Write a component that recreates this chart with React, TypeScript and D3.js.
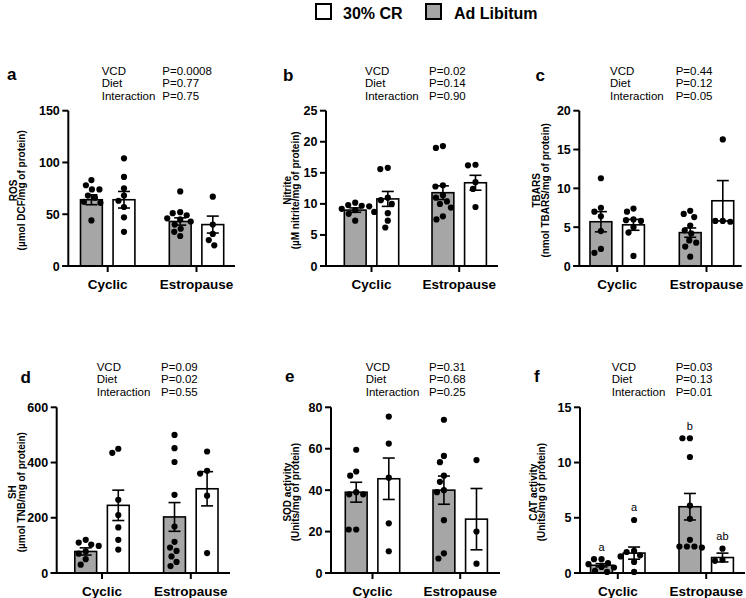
import React from 'react';
import * as d3 from 'd3';

// ---------- data ----------
const categories = ['Cyclic', 'Estropause'];
const diets = ['Ad Libitum', '30% CR'];
const panelLetters = ['a', 'b', 'c', 'd', 'e', 'f'];
const statNames = ['VCD', 'Diet', 'Interaction'];

// group order: AL-Cyclic, CR-Cyclic, AL-Estropause, CR-Estropause
const rosMeans = [64, 64, 43, 40];
const rosSems = [4.8, 8, 3.5, 8.2];
const rosDots = [
  [83, 78, 74, 74, 68, 66, 62, 61, 44],
  [104, 86, 75, 68, 63, 57, 47, 33],
  [72, 52, 51, 49, 46, 45, 43, 40, 36, 33, 29],
  [67, 40, 31, 25, 20],
];
const rosP = ['P=0.0008', 'P=0.77', 'P=0.75'];

const nitMeans = [9.0, 10.8, 11.8, 13.4];
const nitSems = [0.35, 1.2, 1.1, 1.2];
const nitDots = [
  [10.2, 9.8, 9.7, 9.6, 9.2, 9.0, 8.7, 8.4, 7.3],
  [15.8, 15.6, 11.0, 10.6, 10.0, 8.5, 7.3, 6.2],
  [19.3, 19.0, 13.0, 12.8, 11.4, 11.0, 10.4, 10.0, 9.4, 8.0, 7.5],
  [16.3, 16.2, 13.5, 12.4, 9.5],
];
const nitP = ['P=0.02', 'P=0.14', 'P=0.90'];

const tbaMeans = [5.7, 5.3, 4.3, 8.4];
const tbaSems = [1.3, 0.7, 0.6, 2.6];
const tbaDots = [
  [11.3, 7.5, 7.0, 6.4, 4.5, 2.2, 1.7],
  [7.4, 7.0, 6.0, 5.9, 5.8, 5.0, 4.3, 1.3],
  [7.1, 6.7, 6.3, 5.2, 4.6, 4.2, 3.3, 3.0, 2.5, 1.2],
  [16.3, 5.8, 5.7, 5.8],
];
const tbaP = ['P=0.44', 'P=0.12', 'P=0.05'];

const shMeans = [78, 245, 203, 305];
const shSems = [13, 55, 52, 62];
const shDots = [
  [120, 110, 103, 98, 78, 70, 50, 30],
  [450, 435, 265, 210, 165, 120, 85],
  [500, 452, 402, 283, 168, 113, 92, 80, 60, 40, 25],
  [440, 370, 360, 280, 72],
];
const shP = ['P=0.09', 'P=0.02', 'P=0.55'];

const sodMeans = [39, 45.5, 40, 26];
const sodSems = [4.8, 10, 6.8, 14.8];
const sodDots = [
  [59.5, 49, 47, 39, 38, 38, 21, 21],
  [75.5, 62.5, 46, 24, 10.5],
  [74, 56.5, 53.5, 47, 44, 40, 39, 25.5, 9.5, 7],
  [54.5, 20, 4.5],
];
const sodP = ['P=0.31', 'P=0.68', 'P=0.25'];

const catMeans = [0.7, 1.8, 6.0, 1.4];
const catSems = [0.15, 0.55, 1.2, 0.4];
const catDots = [
  [1.25, 1.25, 0.9, 0.8, 0.55, 0.5, 0.2, 0.1],
  [4.8, 2.0, 1.9, 1.6, 1.5, 1.0, 0.1],
  [12.2, 12.2, 10.5, 6.1, 4.9, 3.0, 2.4, 2.4, 2.4, 2.3],
  [2.2, 1.2, 1.1],
];
const catP = ['P=0.03', 'P=0.13', 'P=0.01'];
const catLetters = ['a', 'a', 'b', 'ab'];

// y axes
const yMaxes = [150, 25, 20, 600, 80, 15];
const yTickSteps = [50, 5, 5, 200, 20, 5];
const yTitles1 = ['ROS', 'Nitrite', 'TBARS', 'SH', 'SOD activity', 'CAT activity'];
const yTitles2 = [
  '(µmol DCF/mg of protein)',
  '(µM nitrite/mg of protein)',
  '(nmol TBARS/mg of protein)',
  '(µmol TNB/mg of protein)',
  '(Units/mg of protein)',
  '(Units/mg of protein)',
];

// ---------- layout ----------
const FONT = '"Liberation Sans", Arial, Helvetica, sans-serif';
const GRAY = '#a6a6a6';

const layouts = [
  { x0: 68.3, x1: 235, c1: 107.7, c2: 196.5, top: 110.7, bottom: 266, t1: 13.3, t2: 21.5, lx: 7, ly: 80, sx: 101.7, px: 162.3, sy: 75 },
  { x0: 326, x1: 498, c1: 371.5, c2: 459.2, top: 110.7, bottom: 266, t1: 287, t2: 295.5, lx: 283, ly: 80.5, sx: 365, px: 429, sy: 75 },
  { x0: 579.3, x1: 741.7, c1: 617.2, c2: 706.5, top: 110.7, bottom: 266, t1: 536.7, t2: 545, lx: 535.5, ly: 80.5, sx: 610, px: 675.7, sy: 75 },
  { x0: 56.7, x1: 230, c1: 102, c2: 190.8, top: 407.3, bottom: 573, t1: 12.7, t2: 21.2, lx: 20.5, ly: 382.5, sx: 96.7, px: 161, sy: 370.7 },
  { x0: 331, x1: 500, c1: 372.5, c2: 460.2, top: 407.3, bottom: 573, t1: 287.3, t2: 295.5, lx: 285, ly: 382, sx: 365.7, px: 429, sy: 370.7 },
  { x0: 580, x1: 745, c1: 617.8, c2: 706.2, top: 407.3, bottom: 573, t1: 533.3, t2: 541.3, lx: 534, ly: 382, sx: 611.7, px: 675.7, sy: 370.7 },
];

const allMeans = [rosMeans, nitMeans, tbaMeans, shMeans, sodMeans, catMeans];
const allSems = [rosSems, nitSems, tbaSems, shSems, sodSems, catSems];
const allDots = [rosDots, nitDots, tbaDots, shDots, sodDots, catDots];
const allP = [rosP, nitP, tbaP, shP, sodP, catP];

const R = 3.1;

function swarm(ys: number[]): number[] {
  const order = ys.map((v, i) => i).sort((a, b) => ys[a] - ys[b]);
  const placed: { x: number; y: number }[] = [];
  const xs = new Array(ys.length).fill(0);
  const minD = 7.2;
  for (const i of order) {
    const yy = ys[i];
    let found = 0;
    for (let k = 0; k < 200; k++) {
      const off = k === 0 ? 0 : (k % 2 === 1 ? -1 : 1) * Math.ceil(k / 2) * 0.5;
      const ok = placed.every((p) => Math.hypot(p.x - off, p.y - yy) >= minD);
      if (ok) {
        found = off;
        break;
      }
    }
    xs[i] = found;
    placed.push({ x: found, y: yy });
  }
  return xs;
}

function Panel({ idx }: { idx: number }) {
  const L = layouts[idx];
  const max = yMaxes[idx];
  const step = yTickSteps[idx];
  const means = allMeans[idx];
  const sems = allSems[idx];
  const dots = allDots[idx];
  const y = d3.scaleLinear().domain([0, max]).range([L.bottom, L.top]);
  const xg = d3.scalePoint<string>().domain(categories).range([L.c1, L.c2]);
  const xs = d3.scaleBand<string>().domain(diets).range([-27.2, 27.2]).paddingInner(0.33);
  const bw = xs.bandwidth();
  const ticks = d3.range(0, max + step / 2, step);
  const midY = (L.top + L.bottom) / 2 + 2;

  const groups = means.map((m, i) => {
    const cat = categories[Math.floor(i / 2)];
    const diet = diets[i % 2];
    const left = (xg(cat) as number) + (xs(diet) as number);
    const cx = left + bw / 2;
    return { m, s: sems[i], diet, left, cx, d: dots[i] };
  });

  return (
    <g>
      {/* panel letter */}
      <text x={L.lx} y={L.ly} fontFamily={FONT} fontWeight="bold" fontSize={17}>
        {panelLetters[idx]}
      </text>
      {/* stats */}
      {statNames.map((s, k) => (
        <g key={s}>
          <text x={L.sx} y={L.sy + k * 12.4} fontFamily={FONT} fontSize={11.5}>{s}</text>
          <text x={L.px} y={L.sy + k * 12.4} fontFamily={FONT} fontSize={11.5}>{allP[idx][k]}</text>
        </g>
      ))}
      {/* y title */}
      <text
        transform={`translate(${L.t1 + 3.6},${midY}) rotate(-90)`}
        textAnchor="middle"
        fontFamily={FONT}
        fontWeight="bold"
        fontSize={10}
      >
        {yTitles1[idx]}
      </text>
      <text
        transform={`translate(${L.t2 + 3.6},${midY}) rotate(-90)`}
        textAnchor="middle"
        fontFamily={FONT}
        fontWeight="bold"
        fontSize={10}
      >
        {yTitles2[idx]}
      </text>
      {/* bars */}
      {groups.map((g, i) => (
        <rect
          key={'b' + i}
          x={g.left}
          y={y(g.m)}
          width={bw}
          height={y(0) - y(g.m)}
          fill={g.diet === 'Ad Libitum' ? GRAY : '#ffffff'}
          stroke="#000"
          strokeWidth={1.6}
        />
      ))}
      {/* error bars */}
      {groups.map((g, i) => (
        <g key={'e' + i} stroke="#000" strokeWidth={1.6}>
          <line x1={g.cx} x2={g.cx} y1={y(g.m - g.s)} y2={y(g.m + g.s)} />
          <line x1={g.cx - 6} x2={g.cx + 6} y1={y(g.m + g.s)} y2={y(g.m + g.s)} />
          <line x1={g.cx - 6} x2={g.cx + 6} y1={y(g.m - g.s)} y2={y(g.m - g.s)} />
        </g>
      ))}
      {/* dots */}
      {groups.map((g, i) => {
        const py = g.d.map((v) => y(v));
        const off = swarm(py);
        return (
          <g key={'d' + i}>
            {g.d.map((v, j) => (
              <circle key={j} cx={g.cx + off[j]} cy={py[j]} r={R} fill="#000" />
            ))}
          </g>
        );
      })}
      {/* significance letters */}
      {idx === 5 &&
        groups.map((g, i) => {
          const topY = Math.min(y(d3.max(g.d) as number), y(g.m + g.s));
          return (
            <text key={'l' + i} x={g.cx} y={topY - 8.5} textAnchor="middle" fontFamily={FONT} fontSize={11}>
              {catLetters[i]}
            </text>
          );
        })}
      {/* axes */}
      <line x1={L.x0} x2={L.x0} y1={y(max)} y2={y(0)} stroke="#000" strokeWidth={2} />
      <line x1={L.x0 - 6} x2={L.x1} y1={y(0)} y2={y(0)} stroke="#000" strokeWidth={2} />
      {ticks.map((t) => (
        <g key={'t' + t}>
          <line x1={L.x0 - 6} x2={L.x0} y1={y(t)} y2={y(t)} stroke="#000" strokeWidth={2} />
          <text
            x={L.x0 - 8.5}
            y={y(t)}
            dy="0.36em"
            textAnchor="end"
            fontFamily={FONT}
            fontWeight="bold"
            fontSize={12.5}
          >
            {t}
          </text>
        </g>
      ))}
      {categories.map((c) => (
        <g key={c}>
          <line x1={xg(c)} x2={xg(c)} y1={y(0)} y2={y(0) + 6} stroke="#000" strokeWidth={2} />
          <text
            x={xg(c)}
            y={y(0) + 22.5}
            textAnchor="middle"
            fontFamily={FONT}
            fontWeight="bold"
            fontSize={13.5}
          >
            {c}
          </text>
        </g>
      ))}
    </g>
  );
}

export default function App() {
  return (
    <svg
      width={746}
      height={598}
      viewBox="0 0 746 598"
      style={{ position: 'absolute', left: 0, top: 0, background: '#fff' }}
    >
      <rect x={0} y={0} width={746} height={598} fill="#fff" />
      {/* legend */}
      <rect x={316} y={4} width={15} height={15} fill="#fff" stroke="#000" strokeWidth={2} />
      <text x={343} y={18.5} fontFamily={FONT} fontWeight="bold" fontSize={16}>30% CR</text>
      <rect x={426} y={4} width={15} height={15} fill={GRAY} stroke="#000" strokeWidth={2} />
      <text x={454} y={18.5} fontFamily={FONT} fontWeight="bold" fontSize={16}>Ad Libitum</text>
      {layouts.map((_, i) => (
        <Panel key={i} idx={i} />
      ))}
    </svg>
  );
}
